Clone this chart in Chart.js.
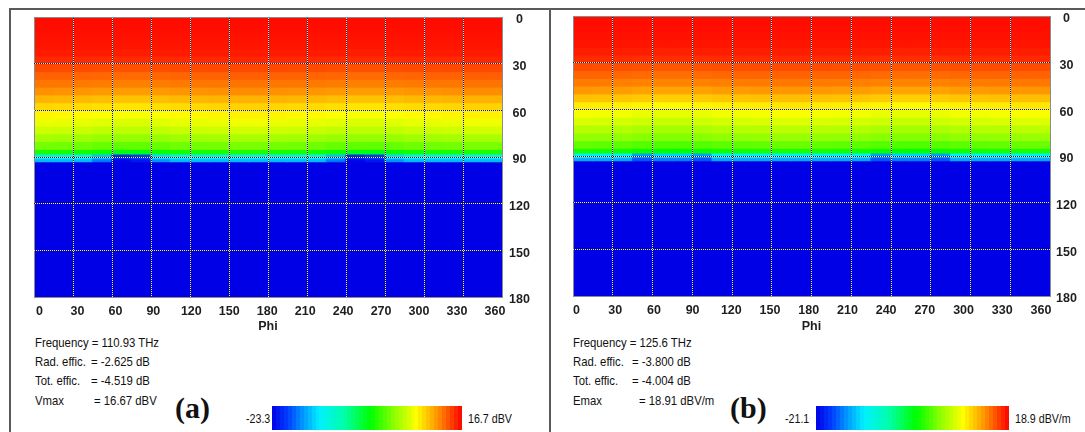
<!DOCTYPE html>
<html><head><meta charset="utf-8">
<script src="https://cdn.jsdelivr.net/npm/chart.js@4/dist/chart.umd.min.js"></script>
<style>
html,body{margin:0;padding:0;background:#fff;width:1085px;height:432px;overflow:hidden;}
body{position:relative;font-family:'Liberation Sans',Arial,sans-serif;color:#111;}
.fr{position:absolute;background:#5a5a5a;z-index:5}
canvas{position:absolute}
.t{position:absolute;font-size:12.6px;white-space:pre;line-height:1;transform:scaleX(0.9);transform-origin:0 0}
.lb{position:absolute;font-family:'Liberation Serif','DejaVu Serif',serif;font-weight:bold;font-size:30px;line-height:1;color:#111}
.cb{position:absolute;height:24px}
.ct{position:absolute;font-size:13px;white-space:pre;line-height:1;transform:scaleX(0.82);transform-origin:0 0}
</style></head><body>
<div class="fr" style="left:9px;top:8px;width:1076px;height:2px"></div>
<div class="fr" style="left:9px;top:8px;width:2px;height:424px"></div>
<div class="fr" style="left:549px;top:8px;width:2px;height:424px"></div>
<canvas id="ca" width="540" height="324" style="left:10px;top:9px"></canvas>
<canvas id="cb" width="535" height="324" style="left:550px;top:9px"></canvas>

<div class="t" style="left:35px;top:337px">Frequency = 110.93 THz</div>
<div class="t" style="left:35px;top:356px">Rad. effic.</div><div class="t" style="left:91px;top:356px">= -2.625 dB</div>
<div class="t" style="left:35px;top:375px">Tot. effic.</div><div class="t" style="left:91px;top:375px">= -4.519 dB</div>
<div class="t" style="left:35px;top:395px">Vmax</div><div class="t" style="left:94px;top:395px">= 16.67 dBV</div>
<div class="lb" style="left:175px;top:393px">(a)</div>
<div class="ct" style="left:246px;top:412px">-23.3</div>
<div class="cb" id="bara" style="left:272px;top:406px;width:190px"></div>
<div class="ct" style="left:468px;top:412px">16.7 dBV</div>

<div class="t" style="left:573px;top:337px">Frequency = 125.6 THz</div>
<div class="t" style="left:573px;top:356px">Rad. effic.</div><div class="t" style="left:632px;top:356px">= -3.800 dB</div>
<div class="t" style="left:573px;top:375px">Tot. effic.</div><div class="t" style="left:632px;top:375px">= -4.004 dB</div>
<div class="t" style="left:573px;top:395px">Emax</div><div class="t" style="left:639px;top:395px">= 18.91 dBV/m</div>
<div class="lb" style="left:730px;top:393px">(b)</div>
<div class="ct" style="left:785px;top:412px">-21.1</div>
<div class="cb" id="barb" style="left:816px;top:406px;width:193px"></div>
<div class="ct" style="left:1015px;top:412px">18.9 dBV/m</div>

<script>
// ---------- data ----------
const phiBins = ['0','15','30','45','60','75','90','105','120','135','150','165','180','195','210','225','240','255','270','285','300','315','330','345'];
const thetaEdges = [0,5,10,15,20,25,30,35,40,45,50,55,60,65,70,75,80,85,88,91,93,180];
const phiTicks = [0,30,60,90,120,150,180,210,240,270,300,330,360];
const thetaTicks = [0,30,60,90,120,150,180];

const rangeA = [-23.3, 16.7];   // dBV
const rangeB = [-21.1, 18.9];   // dBV/m

// panel (a): value per theta row (rows) and phi bin (columns), dBV
const valuesA = [
[16.3,16.3,16.3,16.3,16.3,16.3,16.3,16.3,16.3,16.3,16.3,16.3,16.3,16.3,16.3,16.3,16.3,16.3,16.3,16.3,16.3,16.3,16.3,16.3],
[16.2,16.2,16.2,16.2,16.2,16.2,16.2,16.2,16.2,16.2,16.2,16.2,16.2,16.2,16.2,16.2,16.2,16.2,16.2,16.2,16.2,16.2,16.2,16.2],
[16.1,16.1,16.1,16.1,16.1,16.1,16.1,16.1,16.1,16.1,16.1,16.1,16.1,16.1,16.1,16.1,16.1,16.1,16.1,16.1,16.1,16.1,16.1,16.1],
[16.0,16.0,16.0,16.0,16.0,16.0,16.0,16.0,16.0,16.0,16.0,16.0,16.0,16.0,16.0,16.0,16.0,16.0,16.0,16.0,16.0,16.0,16.0,16.0],
[15.8,15.8,15.8,15.8,15.7,15.7,15.8,15.8,15.8,15.8,15.8,15.8,15.8,15.8,15.8,15.8,15.7,15.7,15.8,15.8,15.8,15.8,15.8,15.8],
[15.3,15.3,15.3,15.2,15.2,15.2,15.2,15.3,15.3,15.3,15.4,15.4,15.3,15.3,15.3,15.2,15.2,15.2,15.2,15.3,15.3,15.3,15.4,15.4],
[14.2,14.1,14.1,14.0,13.9,13.9,14.0,14.1,14.1,14.2,14.2,14.2,14.2,14.1,14.1,14.0,13.9,13.9,14.0,14.1,14.1,14.2,14.2,14.2],
[13.3,13.3,13.2,13.1,13.0,13.0,13.1,13.2,13.3,13.3,13.4,13.4,13.3,13.3,13.2,13.1,13.0,13.0,13.1,13.2,13.3,13.3,13.4,13.4],
[12.6,12.6,12.5,12.4,12.3,12.3,12.4,12.5,12.6,12.6,12.7,12.7,12.6,12.6,12.5,12.4,12.3,12.3,12.4,12.5,12.6,12.6,12.7,12.7],
[11.7,11.6,11.5,11.3,11.2,11.2,11.3,11.5,11.6,11.7,11.8,11.8,11.7,11.6,11.5,11.3,11.2,11.2,11.3,11.5,11.6,11.7,11.8,11.8],
[10.2,10.1,10.0,9.8,9.6,9.6,9.8,10.0,10.1,10.2,10.3,10.3,10.2,10.1,10.0,9.8,9.6,9.6,9.8,10.0,10.1,10.2,10.3,10.3],
[8.8,8.7,8.6,8.4,8.2,8.2,8.4,8.6,8.7,8.8,9.0,9.0,8.8,8.7,8.6,8.4,8.2,8.2,8.4,8.6,8.7,8.8,9.0,9.0],
[7.5,7.4,7.3,7.0,6.8,6.8,7.0,7.3,7.4,7.5,7.7,7.7,7.5,7.4,7.3,7.0,6.8,6.8,7.0,7.3,7.4,7.5,7.7,7.7],
[6.3,6.2,6.1,5.8,5.6,5.6,5.8,6.1,6.2,6.3,6.5,6.5,6.3,6.2,6.1,5.8,5.6,5.6,5.8,6.1,6.2,6.3,6.5,6.5],
[5.0,4.9,4.8,4.5,4.3,4.3,4.5,4.8,4.9,5.0,5.2,5.2,5.0,4.9,4.8,4.5,4.3,4.3,4.5,4.8,4.9,5.0,5.2,5.2],
[3.3,3.2,3.1,2.8,2.6,2.6,2.8,3.1,3.2,3.3,3.5,3.5,3.3,3.2,3.1,2.8,2.6,2.6,2.8,3.1,3.2,3.3,3.5,3.5],
[1.5,1.4,1.3,1.0,0.8,0.8,1.0,1.3,1.4,1.5,1.7,1.7,1.5,1.4,1.3,1.0,0.8,0.8,1.0,1.3,1.4,1.5,1.7,1.7],
[-1.6,-1.7,-1.8,-2.2,-3.0,-3.0,-2.2,-1.8,-1.7,-1.6,-1.5,-1.5,-1.6,-1.7,-1.8,-2.2,-3.0,-3.0,-2.2,-1.8,-1.7,-1.6,-1.5,-1.5],
[-12,-12,-12,-15,-21,-20,-14,-12,-12,-12,-12,-12,-12,-12,-12,-15,-21,-20,-14,-12,-12,-12,-12,-12],
[-15.5,-15.5,-15.5,-18,-23,-22,-17,-15.5,-15.5,-15.5,-15.5,-15.5,-15.5,-15.5,-15.5,-18,-23,-22,-17,-15.5,-15.5,-15.5,-15.5,-15.5],
[-23.3,-23.3,-23.3,-23.3,-23.3,-23.3,-23.3,-23.3,-23.3,-23.3,-23.3,-23.3,-23.3,-23.3,-23.3,-23.3,-23.3,-23.3,-23.3,-23.3,-23.3,-23.3,-23.3,-23.3]
];

// panel (b): dBV/m
const valuesB = [
[18.5,18.5,18.5,18.5,18.5,18.5,18.5,18.5,18.5,18.5,18.5,18.5,18.5,18.5,18.5,18.5,18.5,18.5,18.5,18.5,18.5,18.5,18.5,18.5],
[18.4,18.4,18.4,18.4,18.4,18.4,18.4,18.4,18.4,18.4,18.4,18.4,18.4,18.4,18.4,18.4,18.4,18.4,18.4,18.4,18.4,18.4,18.4,18.4],
[18.3,18.3,18.3,18.3,18.3,18.3,18.3,18.3,18.3,18.3,18.3,18.3,18.3,18.3,18.3,18.3,18.3,18.3,18.3,18.3,18.3,18.3,18.3,18.3],
[18.2,18.2,18.2,18.2,18.2,18.2,18.2,18.2,18.2,18.2,18.2,18.2,18.2,18.2,18.2,18.2,18.2,18.2,18.2,18.2,18.2,18.2,18.2,18.2],
[17.9,17.9,17.9,17.9,17.8,17.8,17.9,17.9,17.9,17.9,17.9,17.9,17.9,17.9,17.9,17.9,17.8,17.8,17.9,17.9,17.9,17.9,17.9,17.9],
[17.4,17.4,17.4,17.3,17.3,17.3,17.3,17.4,17.4,17.4,17.5,17.5,17.4,17.4,17.4,17.3,17.3,17.3,17.3,17.4,17.4,17.4,17.5,17.5],
[16.3,16.2,16.2,16.1,16.0,16.0,16.1,16.2,16.2,16.3,16.3,16.3,16.3,16.2,16.2,16.1,16.0,16.0,16.1,16.2,16.2,16.3,16.3,16.3],
[15.4,15.4,15.3,15.2,15.1,15.1,15.2,15.3,15.4,15.4,15.5,15.5,15.4,15.4,15.3,15.2,15.1,15.1,15.2,15.3,15.4,15.4,15.5,15.5],
[14.6,14.6,14.5,14.4,14.3,14.3,14.4,14.5,14.6,14.6,14.7,14.7,14.6,14.6,14.5,14.4,14.3,14.3,14.4,14.5,14.6,14.6,14.7,14.7],
[13.6,13.5,13.4,13.2,13.1,13.1,13.2,13.4,13.5,13.6,13.7,13.7,13.6,13.5,13.4,13.2,13.1,13.1,13.2,13.4,13.5,13.6,13.7,13.7],
[11.9,11.8,11.7,11.5,11.3,11.3,11.5,11.7,11.8,11.9,12.0,12.0,11.9,11.8,11.7,11.5,11.3,11.3,11.5,11.7,11.8,11.9,12.0,12.0],
[10.1,10.0,9.9,9.7,9.5,9.5,9.7,9.9,10.0,10.1,10.3,10.3,10.1,10.0,9.9,9.7,9.5,9.5,9.7,9.9,10.0,10.1,10.3,10.3],
[8.9,8.8,8.7,8.4,8.2,8.2,8.4,8.7,8.8,8.9,9.1,9.1,8.9,8.8,8.7,8.4,8.2,8.2,8.4,8.7,8.8,8.9,9.1,9.1],
[7.7,7.6,7.5,7.2,7.0,7.0,7.2,7.5,7.6,7.7,7.9,7.9,7.7,7.6,7.5,7.2,7.0,7.0,7.2,7.5,7.6,7.7,7.9,7.9],
[6.3,6.2,6.1,5.8,5.6,5.6,5.8,6.1,6.2,6.3,6.5,6.5,6.3,6.2,6.1,5.8,5.6,5.6,5.8,6.1,6.2,6.3,6.5,6.5],
[4.9,4.8,4.7,4.4,4.2,4.2,4.4,4.7,4.8,4.9,5.1,5.1,4.9,4.8,4.7,4.4,4.2,4.2,4.4,4.7,4.8,4.9,5.1,5.1],
[3.1,3.0,2.9,2.6,2.4,2.4,2.6,2.9,3.0,3.1,3.3,3.3,3.1,3.0,2.9,2.6,2.4,2.4,2.6,2.9,3.0,3.1,3.3,3.3],
[0.5,0.4,0.3,0.0,-0.4,-0.4,0.0,0.3,0.4,0.5,0.6,0.6,0.5,0.4,0.3,0.0,-0.4,-0.4,0.0,0.3,0.4,0.5,0.6,0.6],
[-10.7,-10.7,-10.7,-14.3,-12.3,-12.3,-14.3,-10.7,-10.7,-10.7,-10.7,-10.7,-10.7,-10.7,-10.7,-14.3,-12.3,-12.3,-14.3,-10.7,-10.7,-10.7,-10.7,-10.7],
[-13.9,-13.9,-13.9,-17.1,-15.5,-15.5,-17.1,-13.9,-13.9,-13.9,-13.9,-13.9,-13.9,-13.9,-13.9,-17.1,-15.5,-15.5,-17.1,-13.9,-13.9,-13.9,-13.9,-13.9],
[-21.1,-21.1,-21.1,-21.1,-21.1,-21.1,-21.1,-21.1,-21.1,-21.1,-21.1,-21.1,-21.1,-21.1,-21.1,-21.1,-21.1,-21.1,-21.1,-21.1,-21.1,-21.1,-21.1,-21.1]
];

// ---------- colour map (CST style) ----------
const cmap = [[0,0,0,230],[0.08,0,60,255],[0.16,0,150,255],[0.25,0,240,255],[0.38,0,255,170],[0.52,0,255,0],[0.64,140,255,0],[0.76,255,255,0],[0.87,255,150,0],[1,255,0,0]];
function colAt(t){
  t = Math.max(0, Math.min(1, t));
  for (let i = 1; i < cmap.length; i++) {
    if (t <= cmap[i][0]) {
      const a = cmap[i-1], b = cmap[i], f = (t - a[0]) / (b[0] - a[0]);
      return 'rgb(' + [1,2,3].map(k => Math.round(a[k] + (b[k]-a[k]) * f)).join(',') + ')';
    }
  }
  return 'rgb(255,0,0)';
}
function colorFor(v, range){ return colAt((v - range[0]) / (range[1] - range[0])); }

function colorbar(id){
  const n = 48, parts = [];
  for (let i = 0; i < n; i++) {
    const c = colAt((i + 0.5) / n);
    parts.push(c + ' ' + (i*100/n) + '%', c + ' ' + ((i+1)*100/n) + '%');
  }
  document.getElementById(id).style.background = 'linear-gradient(to right,' + parts.join(',') + ')';
}
colorbar('bara'); colorbar('barb');

function dotPattern(ctx){
  const pc = document.createElement('canvas'); pc.width = 2; pc.height = 2;
  const g = pc.getContext('2d');
  g.fillStyle = '#e6e6e6'; g.fillRect(0,0,2,2);
  g.fillStyle = '#1a1a1a'; g.fillRect(0,0,1,1); g.fillRect(1,1,1,1);
  return ctx.createPattern(pc, 'repeat');
}

const tickFont = {family:"'Liberation Sans',Arial,sans-serif", size:12.5, weight:'bold'};

function makeChart(id, values, range, L){
  const canvas = document.getElementById(id);
  const ctx = canvas.getContext('2d');
  const pat = dotPattern(ctx);
  const datasets = [];
  for (let r = 0; r < thetaEdges.length - 1; r++) {
    datasets.push({
      data: phiBins.map(() => [thetaEdges[r], thetaEdges[r+1]]),
      backgroundColor: values[r].map(v => colorFor(v, range)),
      borderWidth: 0, inflateAmount: 0.6, grouped: false, barPercentage: 1, categoryPercentage: 1
    });
  }
  const edgeGrid = (lo, hi) => (c => (c.tick && (c.tick.value === lo || c.tick.value === hi)) ? '#8c8c8c' : pat);
  const noPad = s => { s.paddingTop = 0; s.paddingBottom = 0; s.paddingLeft = 0; s.paddingRight = 0; };
  return new Chart(ctx, {
    type: 'bar',
    data: {labels: phiBins, datasets},
    options: {
      responsive: false, animation: false, events: [],
      layout: {padding: {left: L.left, top: L.top, right: 0, bottom: 0}},
      plugins: {legend: {display: false}, tooltip: {enabled: false}},
      scales: {
        x: {type: 'category', display: false, offset: true},
        // phi grid (dotted lines over the map)
        xg: {type: 'linear', position: 'bottom', min: 0, max: 360, offset: false, z: 1,
             afterBuildTicks: s => { s.ticks = phiTicks.map(v => ({value: v})); },
             ticks: {display: false},
             grid: {color: edgeGrid(0, 360), lineWidth: 1, drawTicks: false, offset: false, z: 1},
             border: {display: true, color: '#8c8c8c', z: 1},
             afterFit: s => { s.height = 0; noPad(s); }},
        // phi tick labels + title
        xl: {type: 'linear', position: 'bottom', min: L.lab[0], max: L.lab[1], offset: false,
             afterBuildTicks: s => { s.ticks = phiTicks.map(v => ({value: v})); },
             ticks: {font: tickFont, color: '#1e1e1e', padding: 7, maxRotation: 0, autoSkip: false},
             grid: {display: false, drawTicks: false},
             border: {display: false},
             title: {display: true, text: 'Phi', font: {...tickFont, lineHeight: 1}, color: '#1e1e1e', padding: {top: 0, bottom: 0}},
             afterFit: s => { s.height = L.xh; noPad(s); }},
        y: {type: 'linear', position: 'right', reverse: true, min: 0, max: 180, offset: false, z: 1,
            afterBuildTicks: s => { s.ticks = thetaTicks.map(v => ({value: v})); },
            ticks: {font: tickFont, color: '#1e1e1e', padding: L.tp, crossAlign: 'center', autoSkip: false, labelOffset: 3, z: 1},
            grid: {color: edgeGrid(0, 180), lineWidth: 1, drawTicks: false, z: 1},
            border: {display: true, color: '#8c8c8c', z: 1},
            afterFit: s => { s.width = L.yw; noPad(s); }}
      }
    }
  });
}

makeChart('ca', valuesA, rangeA, {left: 24, top: 8, xh: 36, yw: 48, tp: 7, lab: [-4.35, 365.6]});
makeChart('cb', valuesB, rangeB, {left: 23, top: 7, xh: 37, yw: 35, tp: 6, lab: [-2.7, 367.0]});
</script>
</body></html>
